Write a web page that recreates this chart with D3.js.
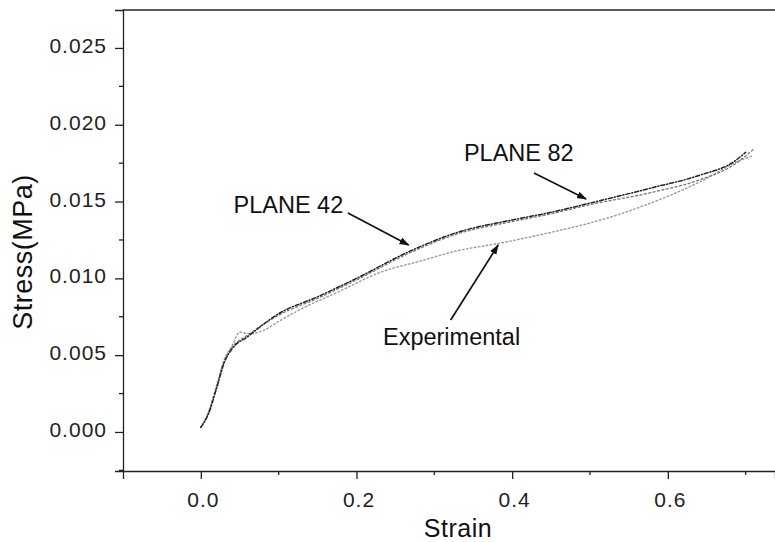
<!DOCTYPE html>
<html lang="en">
<head>
  <meta charset="UTF-8">
  <style>
    body { margin: 0; background: #fff; }
    svg { display: block; font-family: "Liberation Sans", Arial, sans-serif; }
    .axis path, .axis line { stroke: #222; stroke-width: 1.3; }
    .axis text { fill: #222; font-size: 21px; }
    .fn { fill: none; stroke-linecap: round; }
    .note { font-size: 23.5px; fill: #111; }
    .arrow { stroke: #111; stroke-width: 1.7; fill: none; }
  </style>
</head>
<body>
  <svg id="chart" width="775" height="542"></svg>
  <script src="https://cdnjs.cloudflare.com/ajax/libs/d3/7.8.5/d3.min.js"></script>
  <script>
    // data
    const plane42Strain = [0, 0.01, 0.02, 0.03, 0.04, 0.06, 0.10, 0.15, 0.20, 0.27, 0.33, 0.40, 0.45, 0.50, 0.58, 0.64, 0.685, 0.70]
    const plane42Stress = [0.0003, 0.0012, 0.0028, 0.0045, 0.0054, 0.0062, 0.0077, 0.0088, 0.0100, 0.0118, 0.0130, 0.0138, 0.0143, 0.0149, 0.0159, 0.0167, 0.0176, 0.0182]
    const plane82Strain = [0, 0.01, 0.02, 0.03, 0.04, 0.06, 0.10, 0.15, 0.20, 0.27, 0.33, 0.40, 0.45, 0.50, 0.58, 0.64, 0.685, 0.71]
    const plane82Stress = [0.0003, 0.0013, 0.0029, 0.0046, 0.0055, 0.0063, 0.0076, 0.0087, 0.0099, 0.0117, 0.0129, 0.0137, 0.0142, 0.0148, 0.0156, 0.0164, 0.0174, 0.0184]
    const expStrain = [0, 0.01, 0.02, 0.03, 0.04, 0.05, 0.06, 0.08, 0.10, 0.125, 0.18, 0.231, 0.28, 0.33, 0.385, 0.45, 0.514, 0.578, 0.642, 0.694, 0.71]
    const expStress = [0.0003, 0.0013, 0.0030, 0.0047, 0.0056, 0.0065, 0.0064, 0.0066, 0.0072, 0.0079, 0.0092, 0.0104, 0.0111, 0.0118, 0.0123, 0.0130, 0.0138, 0.0149, 0.0163, 0.0177, 0.0180]

    const xTicks = [0.0, 0.2, 0.4, 0.6]
    const xMinor = [0.1, 0.3, 0.5, 0.7]
    const yTicks = [0.000, 0.005, 0.010, 0.015, 0.020, 0.025]
    const yMinor = [-0.0025, 0.0025, 0.0075, 0.0125, 0.0175, 0.0225]

    const notes = [
      { text: 'PLANE 42', x: 0.042, y: 0.01426, x1: 0.189, y1: 0.01426, x2: 0.267, y2: 0.01217 },
      { text: 'PLANE 82', x: 0.338, y: 0.01764, x1: 0.428, y1: 0.01686, x2: 0.495, y2: 0.01517 },
      { text: 'Experimental', x: 0.234, y: 0.00566, x1: 0.321, y1: 0.00729, x2: 0.382, y2: 0.01217 },
    ]

    const box = { left: 123, top: 10, right: 775, bottom: 471 }

    const xScale = d3.scaleLinear()
      .domain([-0.1, 0.7377])
      .range([box.left, box.right])
    const yScale = d3.scaleLinear()
      .domain([-0.00254, 0.02747])
      .range([box.bottom, box.top])

    const svg = d3.select('#chart')

    svg.append('defs').append('marker')
        .attr('id', 'head')
        .attr('viewBox', '0 0 10 10')
        .attr('refX', 9).attr('refY', 5)
        .attr('markerWidth', 6).attr('markerHeight', 6)
        .attr('orient', 'auto-start-reverse')
      .append('path')
        .attr('d', 'M0,1.5 L10,5 L0,8.5 z')
        .attr('fill', '#111')

    // Axes
    // ====
    const xAxis = svg.append('g')
        .attr('class', 'axis')
        .attr('transform', `translate(0, ${box.bottom})`)
        .call(d3.axisBottom(xScale).tickValues(xTicks).tickFormat(d3.format('.1f')).tickSize(8).tickPadding(13))
    xAxis.append('g')
      .selectAll('line')
        .data(xMinor)
      .enter().append('line')
        .attr('x1', d => xScale(d)).attr('x2', d => xScale(d))
        .attr('y1', 0).attr('y2', 4)
    xAxis.selectAll('text').attr('letter-spacing', 1).attr('dx', 2)

    const yAxis = svg.append('g')
        .attr('class', 'axis')
        .attr('transform', `translate(${box.left}, 0)`)
        .call(d3.axisLeft(yScale).tickValues(yTicks).tickFormat(d3.format('.3f')).tickSize(8).tickPadding(8))
    yAxis.append('g')
      .selectAll('line')
        .data(yMinor)
      .enter().append('line')
        .attr('y1', d => yScale(d)).attr('y2', d => yScale(d))
        .attr('x1', 0).attr('x2', -4)
    yAxis.selectAll('text').attr('letter-spacing', 1).attr('dy', '0.22em')

    // top frame line
    svg.append('line')
        .attr('x1', box.left).attr('x2', box.right)
        .attr('y1', box.top).attr('y2', box.top)
        .attr('stroke', '#222').attr('stroke-width', 1.3)

    // titles
    svg.append('text')
        .attr('x', 458).attr('y', 537)
        .attr('text-anchor', 'middle')
        .attr('font-size', 25)
        .attr('letter-spacing', 0.5)
        .attr('fill', '#111')
        .text('Strain')
    svg.append('text')
        .attr('transform', 'translate(32, 252) rotate(-90)')
        .attr('text-anchor', 'middle')
        .attr('font-size', 27)
        .attr('letter-spacing', 0.5)
        .attr('fill', '#111')
        .text('Stress(MPa)')

    // Curves
    // ======
    const line = d3.line()
      .x(d => xScale(d[0]))
      .y(d => yScale(d[1]))
      .curve(d3.curveMonotoneX)

    const series = [
      { xs: expStrain, ys: expStress, color: '#9a9a9a', dash: '1.5,2.5', width: 1.4 },
      { xs: plane82Strain, ys: plane82Stress, color: '#777', dash: '2,2.5', width: 1.3 },
      { xs: plane42Strain, ys: plane42Stress, color: '#222', dash: '4,2,1,2', width: 1.5 },
    ]
    svg.append('g')
      .selectAll('path')
        .data(series)
      .enter().append('path')
        .attr('class', 'fn')
        .attr('d', s => line(s.xs.map((x, i) => [x, s.ys[i]])))
        .attr('stroke', s => s.color)
        .attr('stroke-width', s => s.width)
        .attr('stroke-dasharray', s => s.dash)

    // Annotations
    // ===========
    const ann = svg.append('g')
    ann.selectAll('text')
        .data(notes)
      .enter().append('text')
        .attr('class', 'note')
        .attr('x', d => xScale(d.x))
        .attr('y', d => yScale(d.y))
        .text(d => d.text)
    ann.selectAll('line')
        .data(notes)
      .enter().append('line')
        .attr('class', 'arrow')
        .attr('x1', d => xScale(d.x1)).attr('y1', d => yScale(d.y1))
        .attr('x2', d => xScale(d.x2)).attr('y2', d => yScale(d.y2))
        .attr('marker-end', 'url(#head)')
  </script>
</body>
</html>
